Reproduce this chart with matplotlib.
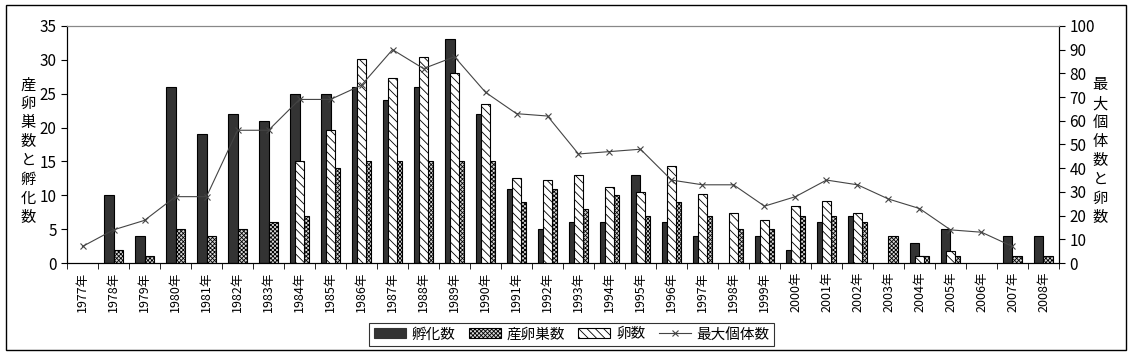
import matplotlib
matplotlib.use("Agg")
import matplotlib.pyplot as plt
from matplotlib.patches import Patch
from matplotlib.lines import Line2D
import numpy as np

plt.rcParams["font.family"] = ["Noto Sans CJK JP", "DejaVu Sans"]
plt.rcParams["hatch.linewidth"] = 0.6

years = [f"{y}年" for y in range(1977, 2009)]

# left axis
hatched = [0, 10, 4, 26, 19, 22, 21, 25, 25, 26, 24, 26, 33, 22, 11, 5,
           6, 6, 13, 6, 4, 0, 4, 2, 6, 7, 0, 3, 5, 0, 4, 4]
nests = [0, 2, 1, 5, 4, 5, 6, 7, 14, 15, 15, 15, 15, 15, 9, 11,
         8, 10, 7, 9, 7, 5, 5, 7, 7, 6, 4, 1, 1, 0, 1, 1]
# right axis
eggs = [0, 0, 0, 0, 0, 0, 0, 43, 56, 86, 78, 87, 80, 67, 36, 35,
        37, 32, 30, 41, 29, 21, 18, 24, 26, 21, 0, 3, 5, 0, 0, 0]
max_ind = [7, 14, 18, 28, 28, 56, 56, 69, 69, 75, 90, 82, 87, 72, 63, 62,
           46, 47, 48, 35, 33, 33, 24, 28, 35, 33, 27, 23, 14, 13, 7, np.nan]

x = np.arange(len(years))
w = 0.31

dark_kw = dict(color="#333333", edgecolor="black", linewidth=0.8)
nest_kw = dict(facecolor="#d8d8d8", edgecolor="black", linewidth=0.8, hatch="xxxxxxxx")
egg_kw = dict(facecolor="white", edgecolor="black", linewidth=0.8, hatch="\\\\\\\\")
line_kw = dict(color="#444444", linewidth=0.8, marker="x", markersize=5,
               markeredgewidth=0.8)

fig = plt.figure(figsize=(11.32, 3.55), dpi=100)
ax1 = fig.add_axes([0.0592, 0.259, 0.8763, 0.668])
ax2 = ax1.twinx()

b1 = ax1.bar(x - w / 2, hatched, w, **dark_kw)
b2 = ax1.bar(x + w / 2, nests, w, **nest_kw)
b3 = ax2.bar(x, eggs, 0.32, **egg_kw)
# zero-height bars would leave a stub on the baseline
for bars, vals in ((b1, hatched), (b2, nests), (b3, eggs)):
    for r, v in zip(bars, vals):
        if v == 0:
            r.set_visible(False)
ax2.plot(x, max_ind, **line_kw)

ax1.set_xlim(-0.5, len(years) - 0.5)
ax1.set_ylim(0, 35)
ax2.set_ylim(0, 100)
ax1.set_yticks(range(0, 36, 5))
ax2.set_yticks(range(0, 101, 10))
ax1.set_xticks(x)
ax1.set_xticklabels(years, rotation=90, fontsize=9)
ax1.set_xticks(np.arange(-0.5, len(years)), minor=True)
ax1.tick_params(axis="x", which="major", length=0, pad=6)
ax1.tick_params(axis="x", which="minor", length=4, direction="out")
ax1.tick_params(axis="y", labelsize=11, length=4)
ax2.tick_params(axis="y", labelsize=11, length=4)

for ax in (ax1, ax2):
    ax.spines["top"].set_color("#888888")
    ax.spines["left"].set_color("black")
    ax.spines["right"].set_color("black")

fig.text(0.025, 0.785, "\n".join("産卵巣数と孵化数"), fontsize=11, ha="center",
         va="top", linespacing=1.15)
fig.text(0.972, 0.785, "\n".join("最大個体数と卵数"), fontsize=11, ha="center",
         va="top", linespacing=1.15)

handles = [Patch(**dark_kw), Patch(**nest_kw), Patch(**egg_kw), Line2D([], [], **line_kw)]
leg = fig.legend(handles, ["孵化数", "産卵巣数", "卵数", "最大個体数"],
                 loc="center", bbox_to_anchor=(0.505, 0.058), ncol=4, fontsize=10.5,
                 frameon=True, fancybox=False, edgecolor="black",
                 handlelength=2.2, handletextpad=0.4, columnspacing=0.9,
                 borderpad=0.3)
leg.get_frame().set_linewidth(0.8)

fig.patches.append(plt.Rectangle((0.005, 0.015), 0.99, 0.97, transform=fig.transFigure,
                                 fill=False, edgecolor="black", linewidth=1))

fig.savefig("out.png", dpi=100)
